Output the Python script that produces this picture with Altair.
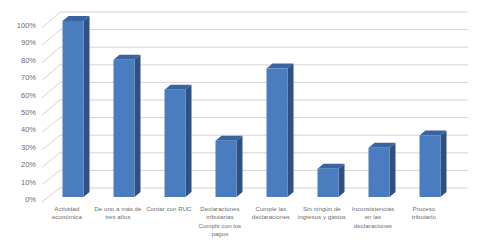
import altair as alt
import pandas as pd

# ---- data ----
categories = [
    "Actividad\neconómica",
    "De uno a más de\ntres años",
    "Contar con RUC",
    "Declaraciones\ntributarias\nCumplir con los\npagos",
    "Cumple las\ndeclaraciones",
    "Sin ningún de\ningresos y gastos",
    "Inconsistencias\nen las\ndeclaraciones",
    "Proceso\ntributario",
]
values = [1.00, 0.78, 0.61, 0.32, 0.73, 0.16, 0.28, 0.35]
tick_values = [0.0, 0.1, 0.2, 0.3, 0.4, 0.5, 0.6, 0.7, 0.8, 0.9, 1.0]
tick_labels = ["0%", "10%", "20%", "30%", "40%", "50%", "60%", "70%", "80%", "90%", "100%"]

W, H = 489, 245
PX_X = 51.0     # px per category step
PX_Y = 176.0    # px per 100 %
X0, Y0 = 73.0, 197.0  # pixel of first category centre / zero line (front)

def ux(px):  # pixel offset -> x units
    return px / PX_X

def uy(px):
    return px / PX_Y

xscale = alt.Scale(domain=[-X0 / PX_X, (W - X0) / PX_X], nice=False, zero=False)
yscale = alt.Scale(domain=[(Y0 - H) / PX_Y, Y0 / PX_Y], nice=False, zero=False)

hw = ux(10.5)     # half width of front face
d = ux(6)         # depth in x
dy = uy(5)        # depth in y
back_dy = uy(9)   # back wall shift

front = pd.DataFrame({
    "i": list(range(len(values))),
    "v": values,
    "cat": categories,
})
front["x"] = front["i"] - hw
front["x2"] = front["i"] + hw
front["y"] = 0.0

side_rows, top_rows = [], []
for i, v in enumerate(values):
    side_rows.append({"b": i, "x": i + hw, "y": 0.0, "y2": v})
    side_rows.append({"b": i, "x": i + hw + d, "y": dy, "y2": v + dy})
    top_rows.append({"b": i, "x": i - hw, "y": v, "y2": v})
    top_rows.append({"b": i, "x": i - hw + d, "y": v, "y2": v + dy})
    top_rows.append({"b": i, "x": i + hw, "y": v, "y2": v + dy})
    top_rows.append({"b": i, "x": i + hw + d, "y": v + dy, "y2": v + dy})
side = pd.DataFrame(side_rows)
top = pd.DataFrame(top_rows)

grid = pd.DataFrame({"t": tick_values, "lab": tick_labels})
grid["yb"] = grid["t"] + back_dy
grid["xb0"] = -ux(X0 - 60)
grid["xb1"] = ux(468 - X0)
grid["xf"] = -ux(X0 - 42)
grid["yl"] = grid["t"] * (174 / 176) - uy(3)
grid["yf"] = grid["yl"] - uy(2)
grid["xl"] = -ux(X0 - 36)

labels = front.copy()
labels["lx"] = labels["i"] - 0.12
labels["ly"] = -uy(206 - Y0)

GRID_COL = "#d8d2d6"
TXT = "#6e6e6e"
FONT = "Liberation Sans"

gridlines = alt.Chart(grid).mark_rule(color=GRID_COL, strokeWidth=1).encode(
    x=alt.X("xb0:Q", scale=xscale, axis=None),
    x2="xb1:Q",
    y=alt.Y("yb:Q", scale=yscale, axis=None),
)
diag = alt.Chart(grid).mark_rule(color=GRID_COL, strokeWidth=1).encode(
    x=alt.X("xf:Q", scale=xscale, axis=None),
    x2="xb0:Q",
    y=alt.Y("yf:Q", scale=yscale, axis=None),
    y2="yb:Q",
)
ylabels = alt.Chart(grid).mark_text(
    align="right", baseline="middle", fontSize=7.5, font=FONT, color=TXT
).encode(
    x=alt.X("xl:Q", scale=xscale, axis=None),
    y=alt.Y("yl:Q", scale=yscale, axis=None),
    text="lab:N",
)

side_mark = alt.Chart(side).mark_area(color="#2e5082", opacity=1).encode(
    x=alt.X("x:Q", scale=xscale, axis=None),
    y=alt.Y("y:Q", scale=yscale, axis=None),
    y2="y2:Q",
    detail="b:N",
)
top_mark = alt.Chart(top).mark_area(color="#3a64a0", opacity=1).encode(
    x=alt.X("x:Q", scale=xscale, axis=None),
    y=alt.Y("y:Q", scale=yscale, axis=None),
    y2="y2:Q",
    detail="b:N",
)
front_mark = alt.Chart(front).mark_rect(color="#4a7dc0").encode(
    x=alt.X("x:Q", scale=xscale, axis=None),
    x2="x2:Q",
    y=alt.Y("y:Q", scale=yscale, axis=None),
    y2="v:Q",
)
xlabels = alt.Chart(labels).mark_text(
    align="center", baseline="top", fontSize=6.2, font=FONT, color=TXT,
    lineBreak="\n", lineHeight=8.3,
).encode(
    x=alt.X("lx:Q", scale=xscale, axis=None),
    y=alt.Y("ly:Q", scale=yscale, axis=None),
    text="cat:N",
)

chart = alt.layer(
    gridlines, diag, ylabels, side_mark, top_mark, front_mark, xlabels
).properties(
    width=W, height=H, padding=0, autosize=alt.AutoSizeParams(type="none"),
    background="white",
).configure_view(stroke=None)

chart.save("out.html", embed_options={"renderer": "svg", "actions": False})
